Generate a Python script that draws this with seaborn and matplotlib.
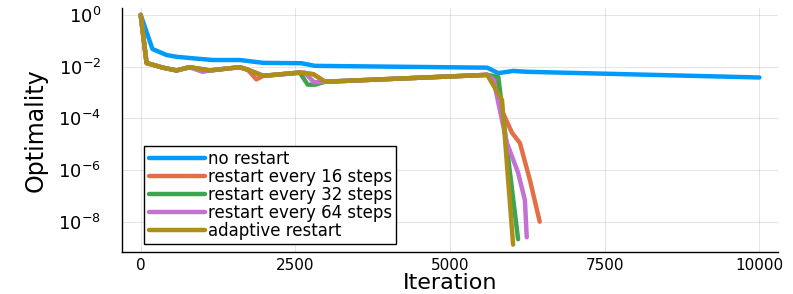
import numpy as np
import pandas as pd
import matplotlib
matplotlib.use("Agg")
import matplotlib.pyplot as plt
import seaborn as sns
from matplotlib.ticker import NullLocator, FixedLocator

labels = ["no restart", "restart every 16 steps", "restart every 32 steps",
          "restart every 64 steps", "adaptive restart"]
colors = ["#009AFA", "#E36F47", "#3EA44E", "#C371D2", "#AC8E18"]

x_none = [0, 190, 420, 580, 840, 1165, 1600, 1980, 2600, 2815, 5600, 5780, 6020, 6250, 10000]
y_none = [1.0, 4.8e-2, 2.8e-2, 2.4e-2, 2.1e-2, 1.8e-2, 1.8e-2, 1.4e-2, 1.35e-2, 1.07e-2,
          9.1e-3, 5.6e-3, 6.8e-3, 6.3e-3, 3.8e-3]

x_r16 = [0, 95, 360, 580, 790, 1115, 1600, 1730, 1870, 1980, 2570, 2790, 2980, 5600,
         5720, 5810, 6000, 6130, 6290, 6450]
y_r16 = [1.0, 1.38e-2, 9.1e-3, 7.1e-3, 9.5e-3, 7.1e-3, 9.5e-3, 7.6e-3, 3.2e-3, 4.4e-3,
         5.9e-3, 5.1e-3, 2.6e-3, 4.8e-3, 3.2e-3, 2.8e-4, 2.8e-5, 1.1e-5, 4.2e-7, 1.0e-8]

x_r32 = [0, 95, 360, 580, 790, 1115, 1600, 1730, 1980, 2570, 2700, 2815, 2980, 5600,
         5780, 6100]
y_r32 = [1.0, 1.38e-2, 9.1e-3, 7.1e-3, 9.5e-3, 7.1e-3, 9.5e-3, 7.6e-3, 4.4e-3, 5.9e-3,
         2.0e-3, 2.0e-3, 2.6e-3, 4.8e-3, 4.0e-3, 2.1e-9]

x_r64 = [0, 95, 360, 580, 790, 1000, 1115, 1600, 1730, 1980, 2650, 2800, 2980, 5600,
         5700, 5920, 6100, 6210, 6240]
y_r64 = [1.0, 1.38e-2, 9.1e-3, 7.1e-3, 9.5e-3, 6.3e-3, 7.1e-3, 9.5e-3, 7.6e-3, 4.4e-3,
         5.9e-3, 2.5e-3, 2.6e-3, 4.8e-3, 3.2e-3, 1.1e-5, 7.9e-7, 6.9e-8, 2.5e-9]

x_ada = [0, 95, 360, 580, 790, 1115, 1600, 1730, 1980, 2570, 2790, 2980, 5600, 5840, 6020]
y_ada = [1.0, 1.38e-2, 9.1e-3, 7.1e-3, 9.5e-3, 7.1e-3, 9.5e-3, 7.6e-3, 4.4e-3, 5.9e-3,
         5.1e-3, 2.6e-3, 4.8e-3, 5.1e-4, 1.3e-9]

series = [(x_none, y_none), (x_r16, y_r16), (x_r32, y_r32), (x_r64, y_r64), (x_ada, y_ada)]
frames = []
for lab, (xs, ys) in zip(labels, series):
    frames.append(pd.DataFrame({"Iteration": xs, "Optimality": ys, "method": lab}))
df = pd.concat(frames, ignore_index=True)

sns.set_style("white")
plt.rcParams["font.family"] = ["DejaVu Sans"]
plt.rcParams["text.color"] = "black"
plt.rcParams["axes.labelcolor"] = "black"
plt.rcParams["xtick.color"] = "black"
plt.rcParams["ytick.color"] = "black"

fig = plt.figure(figsize=(7.93, 2.94), dpi=100)
ax = fig.add_axes([0.154, 0.143, 0.827, 0.830])

sns.lineplot(data=df, x="Iteration", y="Optimality", hue="method", hue_order=labels,
             palette=colors, sort=False, estimator=None, linewidth=3.2, ax=ax)

ax.set_yscale("log")
ax.set_xlim(-300, 10300)
ax.set_ylim(10 ** -9.17, 10 ** 0.27)
ax.xaxis.set_major_locator(FixedLocator([0, 2500, 5000, 7500, 10000]))
ax.yaxis.set_major_locator(FixedLocator([1e0, 1e-2, 1e-4, 1e-6, 1e-8]))
ax.yaxis.set_minor_locator(NullLocator())
ax.grid(True, color="#000000", alpha=0.1, linewidth=0.8)

for s in ["top", "right"]:
    ax.spines[s].set_visible(False)
for s in ["left", "bottom"]:
    ax.spines[s].set_color("black")
    ax.spines[s].set_linewidth(1.0)

ax.tick_params(axis="both", direction="in", length=5, width=0.8)
ax.tick_params(axis="y", labelsize=13, pad=15)
ax.tick_params(axis="x", labelsize=11, pad=4)

ax.set_xlabel("Iteration", fontsize=16, labelpad=0)
ax.set_ylabel("Optimality", fontsize=17, labelpad=8)

leg = ax.legend(loc="lower left", bbox_to_anchor=(0.034, 0.033), fontsize=12,
                frameon=True, fancybox=False, edgecolor="black", framealpha=1,
                handlelength=3.4, handletextpad=0.15, labelspacing=0.0,
                borderpad=0.25, borderaxespad=0)
leg.get_frame().set_linewidth(1.0)

fig.savefig("out.png", dpi=100)
